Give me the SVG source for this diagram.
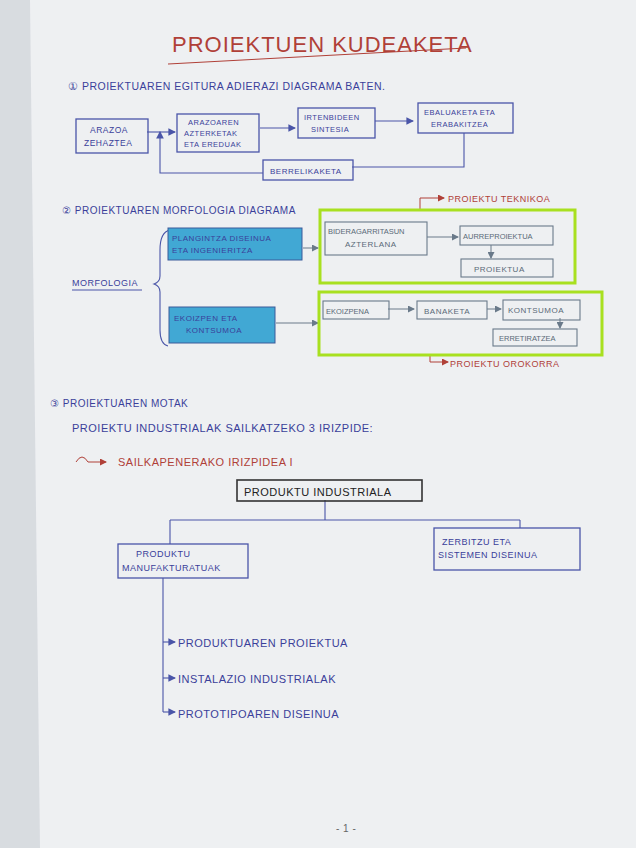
<svg xmlns="http://www.w3.org/2000/svg" width="636" height="848" viewBox="0 0 636 848" font-size="9">
<defs>
<style>
text{font-family:"Liberation Sans",Arial,sans-serif;fill:#3a3f9a;letter-spacing:0.5px}
.b{fill:none;stroke:#4a55a8;stroke-width:1.3}
.g{fill:none;stroke:#6a7a8a;stroke-width:1.1}
.c{fill:none;stroke:#4a55a8;stroke-width:1.1}
.cg{fill:none;stroke:#6a7a8a;stroke-width:1}
.r{fill:#b04038}
.gt{fill:#5a6a78}
.rl{fill:none;stroke:#b04038;stroke-width:1}
</style>
<marker id="a" markerWidth="7" markerHeight="7" refX="6" refY="3.5" orient="auto"><path d="M0,0L7,3.5L0,7z" fill="#4a55a8"/></marker>
<marker id="ag" markerWidth="7" markerHeight="7" refX="6" refY="3.5" orient="auto"><path d="M0,0L7,3.5L0,7z" fill="#6a7a8a"/></marker>
<marker id="ar" markerWidth="7" markerHeight="7" refX="6" refY="3.5" orient="auto"><path d="M0,0L7,3.5L0,7z" fill="#b04038"/></marker>
</defs>
<rect width="636" height="848" fill="#d8dce0"/>
<path d="M30,0H636V848H40Z" fill="#eef0f2"/>
<g id="title"><text x="172" y="52" class="r" font-size="22" style="letter-spacing:1px">PROIEKTUEN KUDEAKETA</text>
<path class="rl" d="M168,64L466,48"/></g>
<g id="h1"><text x="68" y="90" font-size="10.5">① PROIEKTUAREN  EGITURA  ADIERAZI  DIAGRAMA  BATEN.</text></g>
<g id="connectors">
<path class="c" marker-end="url(#a)" d="M147,132H175"/>
<path class="c" marker-end="url(#a)" d="M260,128H295"/>
<path class="c" marker-end="url(#a)" d="M375,121H413"/>
<path class="c" d="M464,133V167H352"/>
<path class="c" marker-end="url(#a)" d="M263,173H160V132"/>
<path class="cg" d="M303,248H318" marker-end="url(#ag)"/>
<path class="cg" d="M427,237H458" marker-end="url(#ag)"/>
<path class="cg" d="M491,245V258" marker-end="url(#ag)"/>
<path class="cg" d="M276,323H318" marker-end="url(#ag)"/>
<path class="cg" d="M388,309H414" marker-end="url(#ag)"/>
<path class="cg" d="M487,309H501" marker-end="url(#ag)"/>
<path class="cg" d="M560,318V328" marker-end="url(#ag)"/>
<path class="rl" d="M420,210V198H444" marker-end="url(#ar)"/>
<path class="rl" d="M430,355V362H448" marker-end="url(#ar)"/>
<path class="c" d="M325,500V520M170,520H520M170,520V544M520,520V528"/>
<path class="c" d="M163,578V712"/>
<path class="c" marker-end="url(#a)" d="M163,642H175"/>
<path class="c" marker-end="url(#a)" d="M163,678H175"/>
<path class="c" marker-end="url(#a)" d="M163,712H175"/>
</g>
<g id="n1"><rect class="b" x="76" y="119" width="72" height="34"/><text x="90" y="133" font-size="8.5">ARAZOA</text><text x="84" y="146" font-size="8.5">ZEHAZTEA</text></g>
<g id="n2"><rect class="b" x="177" y="114" width="82" height="38"/><text x="188" y="125" font-size="7.5">ARAZOAREN</text><text x="184" y="136" font-size="7.5">AZTERKETAK</text><text x="184" y="147" font-size="7.5">ETA EREDUAK</text></g>
<g id="n3"><rect class="b" x="298" y="108" width="77" height="30"/><text x="304" y="120" font-size="7.5">IRTENBIDEEN</text><text x="311" y="132" font-size="7.5">SINTESIA</text></g>
<g id="n4"><rect class="b" x="418" y="103" width="95" height="30"/><text x="424" y="115" font-size="7.5">EBALUAKETA ETA</text><text x="431" y="127" font-size="7.5">ERABAKITZEA</text></g>
<g id="n5"><rect class="b" x="263" y="160" width="90" height="20"/><text x="270" y="174" font-size="8">BERRELIKAKETA</text></g>
<g id="h2"><text x="62" y="214" font-size="10">② PROIEKTUAREN   MORFOLOGIA  DIAGRAMA</text></g>
<g id="morf"><text x="72" y="286" font-size="9">MORFOLOGIA</text><path class="c" d="M72,290H142"/>
<path class="c" d="M170,230Q160,232 160,250V276Q160,282 154,284Q160,286 160,292V330Q160,344 168,346"/></g>
<g id="m1"><rect x="168" y="228" width="134" height="32" fill="#41a8d4" stroke="#3a5a9a"/><text x="172" y="241" font-size="8">PLANGINTZA DISEINUA</text><text x="172" y="253" font-size="8">ETA INGENIERITZA</text></g>
<g id="m2"><rect x="169" y="307" width="106" height="36" fill="#41a8d4" stroke="#3a5a9a"/><text x="174" y="321" font-size="8">EKOIZPEN ETA</text><text x="186" y="333" font-size="8">KONTSUMOA</text></g>
<g id="gt1"><rect x="320" y="210" width="255" height="73" fill="none" stroke="#a8e020" stroke-width="3"/>
<rect class="g" x="325" y="222" width="102" height="33"/><text x="328" y="234" class="gt" font-size="7.5" style="letter-spacing:0">BIDERAGARRITASUN</text><text x="345" y="247" class="gt" font-size="8">AZTERLANA</text>
<rect class="g" x="460" y="226" width="93" height="19"/><text x="463" y="239" class="gt" font-size="7.5" style="letter-spacing:0">AURREPROIEKTUA</text>
<rect class="g" x="461" y="259" width="92" height="18"/><text x="474" y="272" class="gt" font-size="8">PROIEKTUA</text></g>
<g id="gt2"><rect x="319" y="292" width="283" height="63" fill="none" stroke="#a8e020" stroke-width="3"/>
<rect class="g" x="323" y="301" width="66" height="18"/><text x="326" y="314" class="gt" font-size="7.5" style="letter-spacing:0">EKOIZPENA</text>
<rect class="g" x="417" y="301" width="70" height="18"/><text x="424" y="314" class="gt" font-size="8">BANAKETA</text>
<rect class="g" x="503" y="300" width="77" height="20"/><text x="508" y="313" class="gt" font-size="8">KONTSUMOA</text>
<rect class="g" x="493" y="329" width="84" height="17"/><text x="499" y="341" class="gt" font-size="7.5" style="letter-spacing:0">ERRETIRATZEA</text></g>
<text x="448" y="202" class="r" font-size="9">PROIEKTU TEKNIKOA</text>
<text x="450" y="367" class="r" font-size="9">PROIEKTU OROKORRA</text>
<g id="h3"><text x="50" y="407" font-size="10">③ PROIEKTUAREN  MOTAK</text>
<text x="72" y="432" font-size="11">PROIEKTU  INDUSTRIALAK  SAILKATZEKO  3  IRIZPIDE:</text>
<path class="rl" d="M76,462Q82,452 88,462"/><path class="rl" d="M88,462H106" marker-end="url(#ar)"/>
<text x="118" y="466" class="r" font-size="11">SAILKAPENERAKO  IRIZPIDEA  I</text></g>
<g id="p1"><rect x="237" y="480" width="185" height="21" fill="none" stroke-width="1.6" stroke="#333"/><text x="244" y="496" font-size="11" style="fill:#222">PRODUKTU INDUSTRIALA</text></g>
<g id="p2"><rect class="b" x="118" y="544" width="130" height="34"/><text x="136" y="557" font-size="9">PRODUKTU</text><text x="122" y="571" font-size="9">MANUFAKTURATUAK</text></g>
<g id="p3"><rect class="b" x="434" y="528" width="146" height="42"/><text x="442" y="545" font-size="9">ZERBITZU ETA</text><text x="438" y="558" font-size="9">SISTEMEN DISEINUA</text></g>
<text x="178" y="647" font-size="11">PRODUKTUAREN  PROIEKTUA</text>
<text x="178" y="683" font-size="11">INSTALAZIO INDUSTRIALAK</text>
<text x="178" y="718" font-size="11">PROTOTIPOAREN  DISEINUA</text>
<text x="336" y="832" font-size="10" style="fill:#666">- 1 -</text>
</svg>
